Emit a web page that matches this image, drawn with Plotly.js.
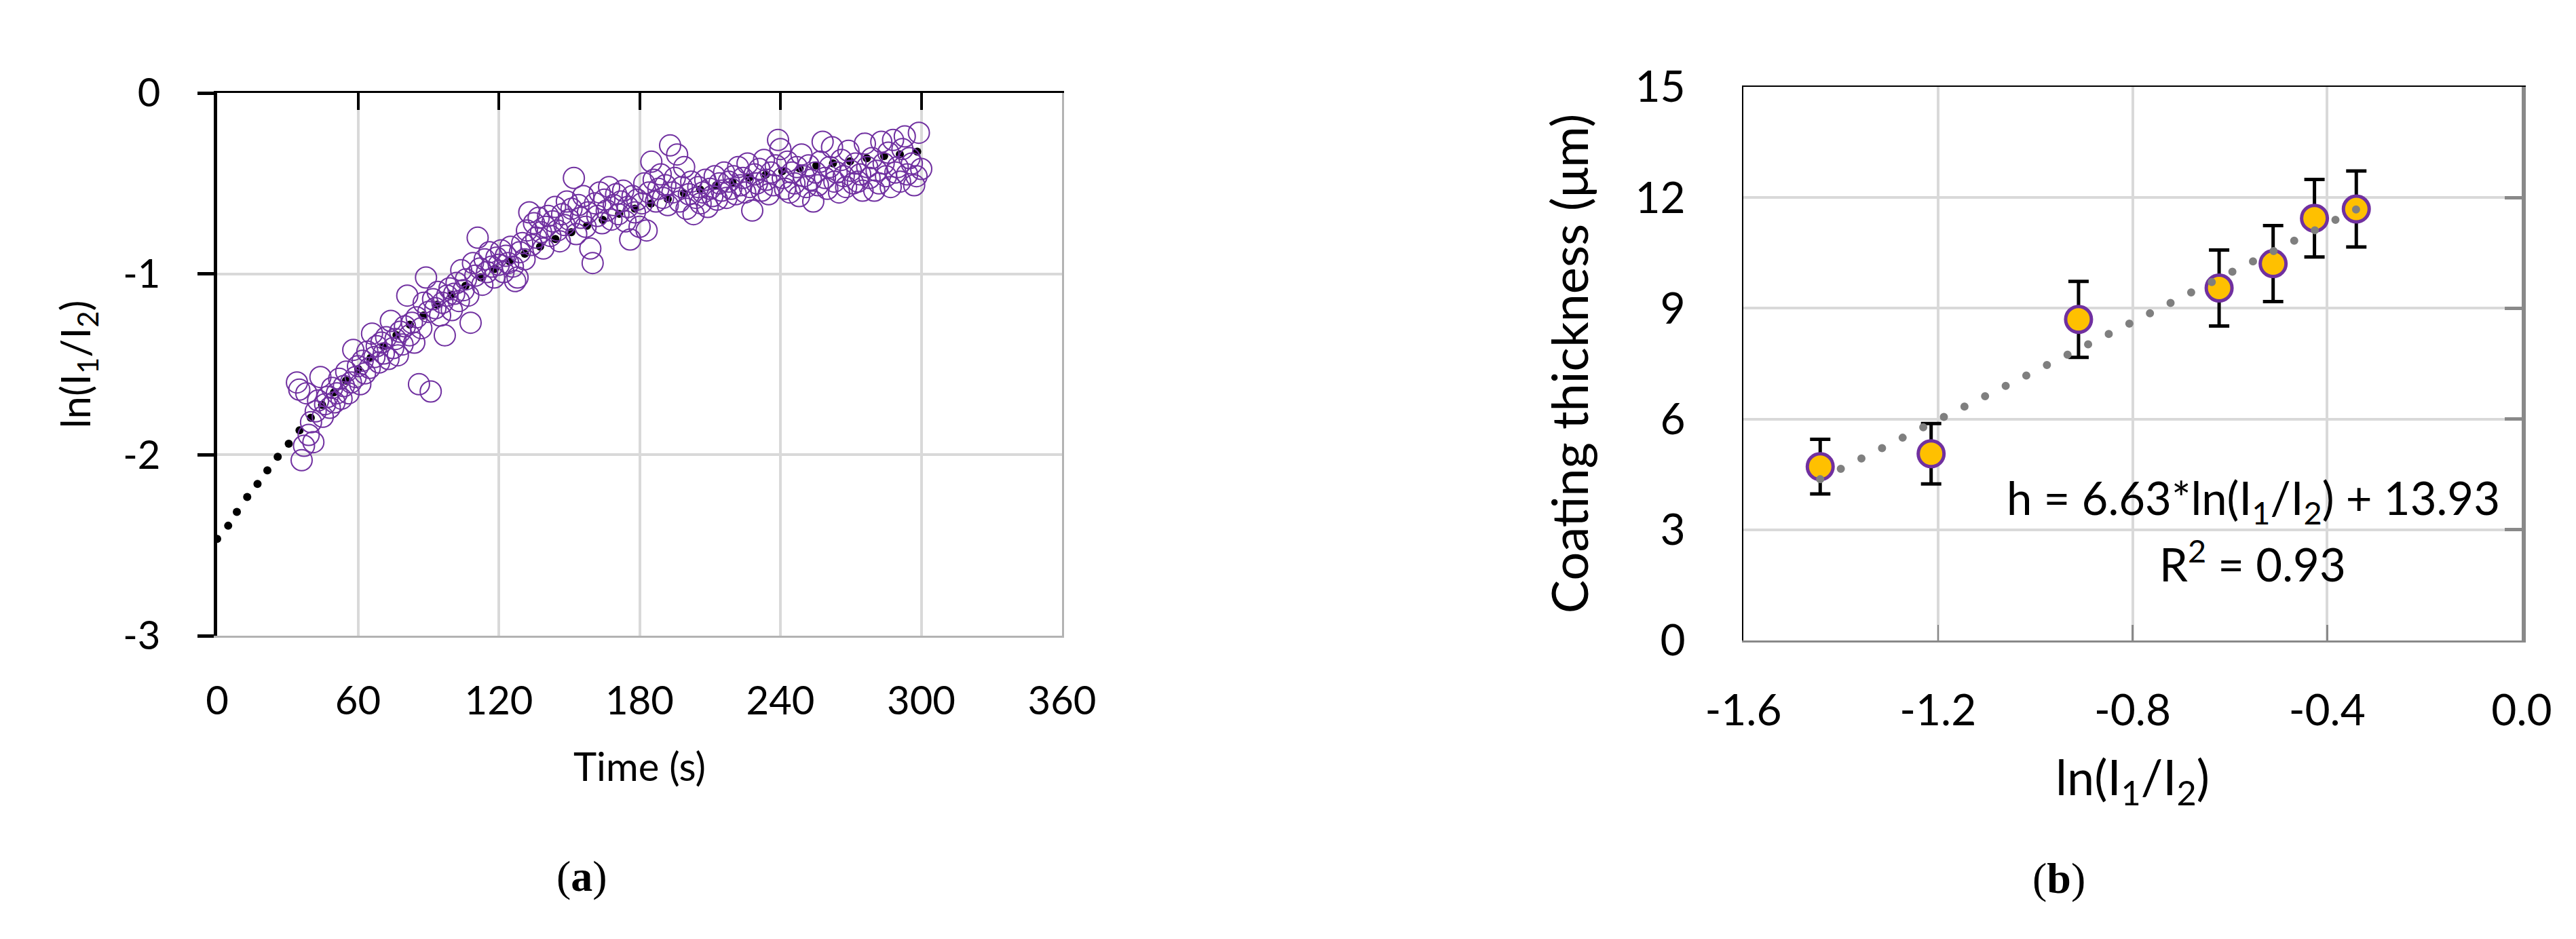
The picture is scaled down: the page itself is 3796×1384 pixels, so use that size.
<!DOCTYPE html>
<html><head><meta charset="utf-8">
<script src="https://cdn.plot.ly/plotly-3.0.1.min.js"></script>
<style>html,body{margin:0;padding:0;background:#fff;} #chart{width:3796px;height:1384px;} .js-line{stroke-linecap:round;}</style>
</head><body><div id="chart"></div><script>
// ---------- Panel (a) data ----------
const timeS = [34,35,36,37,38,39,40,41,42,43,44,45,46,47,48,49,50,51,52,53,54,55,56,57,58,59,60,61,62,63,64,65,66,67,68,69,70,71,72,73,74,75,76,77,78,79,80,81,82,83,84,85,86,87,88,89,90,91,92,93,94,95,96,97,98,99,100,101,102,103,104,105,106,107,108,109,110,111,112,113,114,115,116,117,118,119,120,121,122,123,124,125,126,127,128,129,130,131,132,133,134,135,136,137,138,139,140,141,142,143,144,145,146,147,148,149,150,151,152,153,154,155,156,157,158,159,160,161,162,163,164,165,166,167,168,169,170,171,172,173,174,175,176,177,178,179,180,181,182,183,184,185,186,187,188,189,190,191,192,193,194,195,196,197,198,199,200,201,202,203,204,205,206,207,208,209,210,211,212,213,214,215,216,217,218,219,220,221,222,223,224,225,226,227,228,229,230,231,232,233,234,235,236,237,238,239,240,241,242,243,244,245,246,247,248,249,250,251,252,253,254,255,256,257,258,259,260,261,262,263,264,265,266,267,268,269,270,271,272,273,274,275,276,277,278,279,280,281,282,283,284,285,286,287,288,289,290,291,292,293,294,295,296,297,298,299,300];
const lnRatio = [
-1.60,-1.64,-2.03,-1.95,-1.66,-1.89,-1.82,-1.93,-1.76,-1.70,
-1.57,-1.79,-1.72,-1.68,-1.74,-1.63,-1.71,-1.66,-1.58,-1.69,
-1.62,-1.54,-1.66,-1.60,-1.42,-1.57,-1.51,-1.61,-1.48,-1.55,
-1.43,-1.52,-1.33,-1.46,-1.40,-1.49,-1.38,-1.44,-1.35,-1.47,
-1.26,-1.41,-1.36,-1.45,-1.32,-1.39,-1.29,-1.12,-1.34,-1.27,
-1.38,-1.24,-1.61,-1.30,-1.16,-1.02,-1.21,-1.65,-1.14,-1.19,
-1.10,-1.23,-1.16,-1.34,-1.12,-1.08,-1.20,-1.11,-1.05,-1.15,
-0.98,-1.09,-1.03,-1.12,-1.27,-0.94,-1.01,-0.80,-0.97,-1.06,
-0.92,-0.99,-0.88,-0.96,-1.02,-0.91,-0.95,-0.87,-0.99,-0.90,
-0.94,-0.85,-0.96,-1.04,-1.02,-0.88,-0.83,-0.92,-0.76,-0.66,
-0.84,-0.72,-0.80,-0.69,-0.77,-0.86,-0.74,-0.68,-0.79,-0.71,
-0.63,-0.76,-0.82,-0.67,-0.73,-0.60,-0.70,-0.64,-0.47,-0.78,
-0.62,-0.69,-0.57,-0.74,-0.66,-0.86,-0.94,-0.61,-0.68,-0.55,
-0.72,-0.59,-0.65,-0.52,-0.70,-0.62,-0.56,-0.67,-0.60,-0.54,
-0.71,-0.63,-0.81,-0.57,-0.66,-0.59,-0.74,-0.61,-0.50,-0.76,
-0.55,-0.38,-0.48,-0.60,-0.53,-0.45,-0.58,-0.51,-0.62,-0.29,
-0.55,-0.47,-0.34,-0.60,-0.52,-0.41,-0.64,-0.56,-0.49,-0.67,
-0.58,-0.52,-0.61,-0.55,-0.48,-0.63,-0.53,-0.57,-0.46,-0.59,
-0.50,-0.54,-0.44,-0.58,-0.49,-0.53,-0.46,-0.56,-0.41,-0.51,
-0.47,-0.55,-0.39,-0.52,-0.65,-0.45,-0.50,-0.42,-0.54,-0.37,
-0.48,-0.56,-0.44,-0.51,-0.40,-0.26,-0.31,-0.47,-0.53,-0.38,
-0.55,-0.44,-0.50,-0.41,-0.57,-0.34,-0.46,-0.52,-0.40,-0.48,
-0.60,-0.44,-0.51,-0.38,-0.27,-0.47,-0.53,-0.41,-0.30,-0.49,
-0.44,-0.55,-0.37,-0.46,-0.52,-0.32,-0.43,-0.50,-0.39,-0.49,
-0.45,-0.54,-0.28,-0.41,-0.47,-0.36,-0.54,-0.43,-0.50,-0.27,
-0.39,-0.46,-0.33,-0.52,-0.26,-0.44,-0.41,-0.49,-0.31,-0.24,
-0.45,-0.36,-0.39,-0.51,-0.46,-0.22,-0.42];
// trend-line dots
const trendTime = [0,4.7,8.4,12.8,17.2,21.4,25.8,30.5,35.1,39.9,44.7,49.8,54.9,60.1,65.4,70.9,76.4,82.1,87.9,93.7,99.9,105.8,112.3,118.3,124.6,131.1,137.6,144.1,150.9,157.6,164.3,171.3,178.0,184.9,192.0,198.9,205.8,212.6,219.6,226.7,233.8,240.8,248.2,255.3,262.4,269.7,276.8,284.2,290.9,298.3];
const trendLn = [-2.465,-2.392,-2.316,-2.233,-2.161,-2.086,-2.011,-1.939,-1.865,-1.795,-1.724,-1.655,-1.590,-1.526,-1.464,-1.401,-1.339,-1.281,-1.230,-1.170,-1.116,-1.066,-1.019,-0.972,-0.931,-0.889,-0.849,-0.807,-0.770,-0.734,-0.701,-0.668,-0.639,-0.611,-0.586,-0.555,-0.533,-0.511,-0.494,-0.468,-0.451,-0.432,-0.417,-0.401,-0.389,-0.378,-0.361,-0.349,-0.339,-0.324];
const timeTicks = [0,60,120,180,240,300,360];
const lnTicksA = [-3,-2,-1,0];
const lnTickTextA = ['-3','-2','-1','0'];

// ---------- Panel (b) data ----------
const lnB = [-1.442,-1.214,-0.911,-0.622,-0.511,-0.426,-0.340];
const thickness = [4.71,5.06,8.70,9.55,10.21,11.44,11.69];
const thicknessErr = [0.74,0.82,1.03,1.03,1.03,1.05,1.03];
const fitX = [-1.442,-0.340];
const fitY = [4.37,11.68];
const lnTicksB = [-1.6,-1.2,-0.8,-0.4,0.0];
const lnTickTextB = ['-1.6','-1.2','-0.8','-0.4','0.0'];
const thickTicks = [0,3,6,9,12,15];
const lnTitle = 'ln(I<sub>1</sub>/I<sub>2</sub>)';
const eqText = 'h = 6.63*ln(I<sub>1</sub>/I<sub>2</sub>) + 13.93';
const r2Text = 'R<sup>2</sup> = 0.93';

const W = 3796, H = 1384;
const F = "Lato, 'Liberation Sans', sans-serif";
const SERIF = "'Liberation Serif', 'DejaVu Serif', serif";
const purple = '#7030A0', grid = '#D9D9D9';

const traces = [
  {x: trendTime, y: trendLn, xaxis:'x', yaxis:'y', mode:'markers', type:'scatter',
   marker:{color:'#000', size:12, line:{width:0}}, hoverinfo:'skip'},
  {x: timeS, y: lnRatio, xaxis:'x3', yaxis:'y3', mode:'markers', type:'scatter',
   marker:{symbol:'circle-open', color:purple, size:31, line:{width:2}}},
  {x: lnB, y: thickness, xaxis:'x2', yaxis:'y2', mode:'markers', type:'scatter',
   marker:{color:'#FFC000', size:38, line:{color:purple, width:5}},
   error_y:{type:'data', array: thicknessErr, visible:true, color:'#000', thickness:5, width:15}},
  {x: fitX, y: fitY, xaxis:'x4', yaxis:'y4', mode:'lines', type:'scatter',
   line:{color:'#7F7F7F', width:12, dash:'0px,34px'}, hoverinfo:'skip'}
];

const layout = {
  width: W, height: H, margin:{l:0,r:0,t:0,b:0}, showlegend:false,
  paper_bgcolor:'#fff', plot_bgcolor:'rgba(0,0,0,0)',
  font:{family:F, color:'#000'},
  xaxis:{domain:[320/W,1565/W], anchor:'y', range:[0,360], tickvals:timeTicks,
    showgrid:true, gridcolor:grid, gridwidth:4, zeroline:false,
    showline:true, linecolor:'#B3B3B3', linewidth:3, ticks:'', ticklabelstandoff:43,
    tickfont:{size:58, family:F}, title:{text:'Time (s)', font:{size:58, family:F}, standoff:47}},
  yaxis:{domain:[1-937/H,1-137/H], anchor:'x', range:[-3,0], tickvals:lnTicksA, ticktext:lnTickTextA,
    showgrid:true, gridcolor:grid, gridwidth:4, zeroline:false,
    showline:true, linecolor:'#000', linewidth:5, ticks:'outside', ticklen:24, tickwidth:5, tickcolor:'#000',
    ticklabelstandoff:43, tickfont:{size:58, family:F},
    title:{text:lnTitle, font:{size:60, family:F}, standoff:30}},
  xaxis3:{overlaying:'x', anchor:'y', side:'top', range:[0,360], tickvals:timeTicks,
    showgrid:false, zeroline:false, showline:true, linecolor:'#000', linewidth:3,
    ticks:'inside', ticklen:25, tickwidth:4, tickcolor:'#000', showticklabels:false},
  yaxis3:{overlaying:'y', anchor:'x', side:'right', range:[-3,0],
    showgrid:false, zeroline:false, showline:true, linecolor:'#B3B3B3', linewidth:3,
    ticks:'', showticklabels:false},
  xaxis2:{domain:[2569/W,3716/W], anchor:'y2', range:[-1.6,0], tickvals:lnTicksB, ticktext:lnTickTextB,
    showgrid:true, gridcolor:grid, gridwidth:4, zeroline:false,
    showline:true, linecolor:'#898989', linewidth:3, ticks:'inside', ticklen:23, tickwidth:2.5, tickcolor:'#898989',
    ticklabelstandoff:45, tickfont:{size:64, family:F},
    title:{text:lnTitle, font:{size:72, family:F}, standoff:40}},
  yaxis2:{domain:[1-944/H,1-128/H], anchor:'x2', range:[0,15], tickvals:thickTicks,
    showgrid:true, gridcolor:grid, gridwidth:4, zeroline:false,
    showline:true, linecolor:'#000', linewidth:2.5, ticks:'',
    ticklabelstandoff:70, tickfont:{size:64, family:F},
    title:{text:'Coating thickness (μm)', font:{size:74, family:F}, standoff:45}},
  xaxis4:{overlaying:'x2', anchor:'y2', side:'top', range:[-1.6,0],
    showgrid:false, zeroline:false, showline:true, linecolor:'#000', linewidth:2.5,
    ticks:'', showticklabels:false},
  yaxis4:{overlaying:'y2', anchor:'x2', side:'right', range:[0,15], tickvals:thickTicks,
    showgrid:false, zeroline:false, showline:true, linecolor:'#898989', linewidth:6,
    ticks:'inside', ticklen:25, tickwidth:5, tickcolor:'#898989', showticklabels:false},
  annotations:[
    {xref:'paper', yref:'paper', x:857/W, y:1-1291/H, xanchor:'center', yanchor:'middle', showarrow:false,
     text:'(<b>a</b>)', font:{family:SERIF, size:64, color:'#000'}},
    {xref:'paper', yref:'paper', x:3034/W, y:1-1294/H, xanchor:'center', yanchor:'middle', showarrow:false,
     text:'(<b>b</b>)', font:{family:SERIF, size:64, color:'#000'}},
    {xref:'paper', yref:'paper', x:3320/W, y:1-738/H, xanchor:'center', yanchor:'middle', showarrow:false,
     text:eqText, font:{family:F, size:67, color:'#000'}},
    {xref:'paper', yref:'paper', x:3319/W, y:1-827/H, xanchor:'center', yanchor:'middle', showarrow:false,
     text:r2Text, font:{family:F, size:67, color:'#000'}}
  ]
};
Plotly.newPlot('chart', traces, layout, {staticPlot:true, displayModeBar:false});
</script></body></html>
